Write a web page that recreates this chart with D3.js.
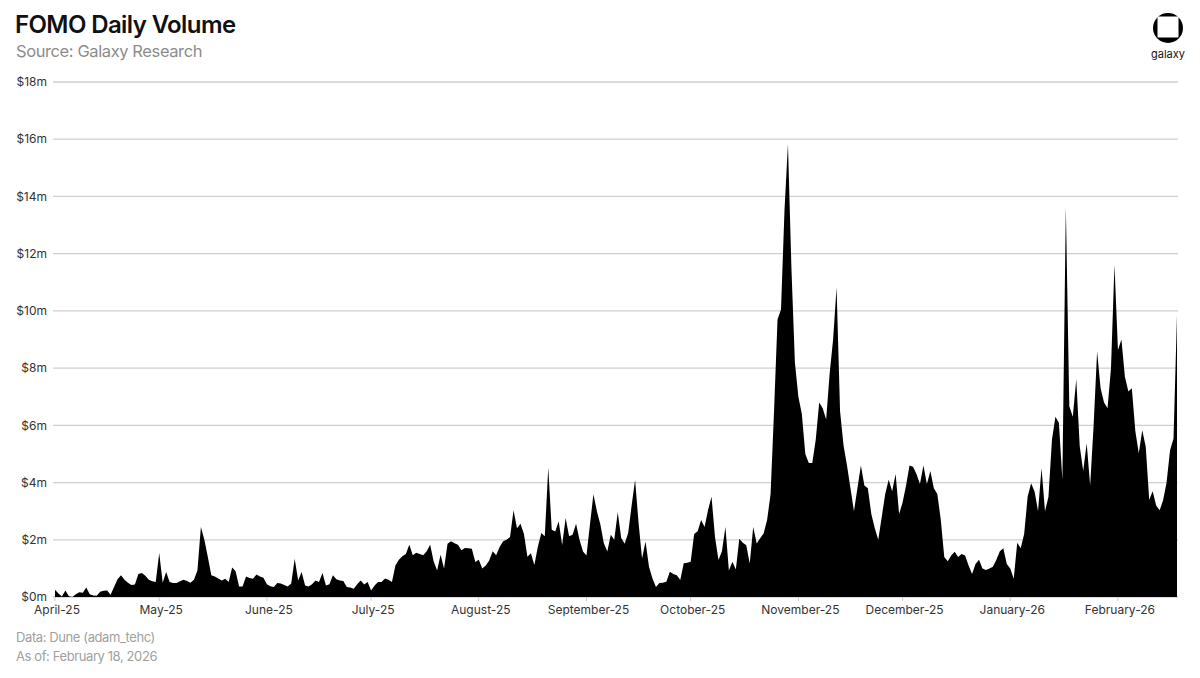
<!DOCTYPE html>
<html><head><meta charset="utf-8">
<script src="https://cdn.jsdelivr.net/npm/d3@7"></script>
<style>
body{margin:0;background:#fff;}
svg{display:block;font-family:Inter,"Open Sans",sans-serif;}
</style></head><body>
<svg id="c" width="1200" height="678"></svg>
<script>
const startDate = "2025-04-01";
const endDate = "2026-02-18";
const aprVals = [0.25,0.12,0.02,0.23,0.03,0.0,0.1,0.17,0.15,0.33,0.1,0.05,0.04,0.18,0.22,0.23,0.08,0.35,0.62,0.76,0.6,0.5,0.42,0.44,0.8,0.84,0.74,0.6,0.55,0.52];
const mayVals = [1.54,0.5,0.87,0.52,0.49,0.49,0.55,0.6,0.56,0.5,0.6,0.93,2.45,2.0,1.4,0.76,0.72,0.65,0.58,0.64,0.52,1.03,0.9,0.37,0.37,0.72,0.66,0.64,0.79,0.72,0.67];
const junVals = [0.45,0.38,0.35,0.49,0.47,0.42,0.37,0.47,1.34,0.58,0.87,0.4,0.37,0.45,0.58,0.52,0.84,0.4,0.45,0.76,0.62,0.58,0.56,0.35,0.33,0.29,0.45,0.58,0.44,0.52];
const julVals = [0.23,0.4,0.52,0.52,0.65,0.6,0.52,1.1,1.3,1.42,1.5,1.83,1.46,1.55,1.5,1.46,1.6,1.83,1.25,0.93,1.48,1.0,1.86,1.95,1.88,1.83,1.63,1.71,1.7,1.69,1.22];
const augVals = [1.3,1.0,1.1,1.28,1.6,1.46,1.75,1.95,2.0,2.1,3.03,2.4,2.56,2.2,1.41,1.53,1.12,1.76,2.24,2.12,4.53,2.35,2.29,2.65,1.82,2.76,2.12,2.18,2.56,2.0,1.59];
const sepVals = [1.45,2.53,3.59,3.0,2.53,1.88,1.59,2.18,2.0,2.96,2.06,1.86,2.24,3.2,4.09,2.59,1.35,1.94,1.06,0.65,0.35,0.49,0.5,0.53,0.88,0.8,0.76,0.59,1.18,1.2];
const octVals = [1.23,2.2,2.3,2.69,2.45,3.04,3.5,2.1,1.29,1.6,2.45,0.93,1.23,0.96,2.04,1.9,1.81,1.17,2.45,1.87,2.05,2.22,2.69,3.6,6.5,9.7,10.05,13.5,15.83,11.5,8.2];
const novVals = [7.0,6.4,5.0,4.68,4.68,5.5,6.8,6.6,6.2,7.8,9.0,10.82,6.5,5.3,4.6,3.8,3.0,3.8,4.6,3.9,3.8,2.9,2.4,2.0,2.8,3.6,4.1,3.7,4.3,2.9];
const decVals = [3.3,3.9,4.6,4.55,4.3,3.95,4.6,3.95,4.4,3.8,3.6,2.7,1.4,1.25,1.45,1.58,1.4,1.5,1.45,1.1,0.8,1.15,1.3,1.0,0.94,1.0,1.06,1.3,1.6,1.7,1.15];
const janVals = [1.0,0.64,1.9,1.7,2.2,3.5,3.98,3.69,3.0,4.51,3.0,3.5,5.5,6.3,6.09,4.1,13.64,6.67,6.3,7.61,5.27,4.4,5.37,3.9,6.0,8.58,7.3,6.8,6.6,8.0,11.61];
const febVals = [8.63,9.0,7.7,7.18,7.3,5.8,5.02,5.83,5.25,3.4,3.7,3.2,3.03,3.38,4.0,5.13,5.54,9.86];
const yTicks = [0,2,4,6,8,10,12,14,16,18];
const titleText = "FOMO Daily Volume";
const subtitleText = "Source: Galaxy Research";
const footer1 = "Data: Dune (adam_tehc)";
const footer2 = "As of: February 18, 2026";

const values = [].concat(aprVals,mayVals,junVals,julVals,augVals,sepVals,octVals,novVals,decVals,janVals,febVals);
const parse = d3.utcParse("%Y-%m-%d");
const t0 = parse(startDate);
const data = values.map((v,i)=>({date:d3.utcDay.offset(t0,i), v}));

const svg = d3.select("#c");
const x = d3.scaleUtc().domain([t0, parse(endDate)]).range([55,1177]);
const y = d3.scaleLinear().domain([0,18]).range([597,82]);

// gridlines
svg.append("g").selectAll("line").data(yTicks).join("line")
  .attr("x1",53).attr("x2",1178)
  .attr("y1",d=>y(d)).attr("y2",d=>y(d))
  .attr("stroke","#cfcfcf").attr("stroke-width",1.3);

// y labels
svg.append("g").selectAll("text").data(yTicks).join("text")
  .attr("x",47).attr("y",d=>y(d)).attr("dy","0.35em")
  .attr("text-anchor","end").attr("font-size",12).attr("fill","#333")
  .text(d=>"$"+d+"m");

// area
const area = d3.area().x(d=>x(d.date)).y0(y(0)).y1(d=>y(d.v)).curve(d3.curveLinear);
svg.append("path").datum(data).attr("d",area).attr("fill","#000");

// x axis
const months = d3.utcMonth.range(t0, parse(endDate));
const fmt = d3.utcFormat("%B-%y");
const xg = svg.append("g");
xg.selectAll("line").data(months).join("line")
  .attr("x1",d=>x(d)).attr("x2",d=>x(d)).attr("y1",597).attr("y2",601)
  .attr("stroke","#ccc");
xg.selectAll("text").data(months).join("text")
  .attr("x",d=>x(d)+2).attr("y",614).attr("text-anchor","middle")
  .attr("font-size",12).attr("fill","#333").text(d=>fmt(d));

// title
svg.append("text").attr("x",15).attr("y",33).attr("font-size",24).attr("font-weight",600)
  .attr("letter-spacing","-0.6").attr("fill","#111").text(titleText);
svg.append("text").attr("x",16).attr("y",57).attr("font-size",16.5)
  .attr("letter-spacing","-0.4").attr("fill","#8c8c8c").text(subtitleText);

// footer
svg.append("text").attr("x",16).attr("y",642).attr("font-size",13).attr("letter-spacing","-0.4")
  .attr("fill","#a0a0a0").text(footer1);
svg.append("text").attr("x",16).attr("y",661).attr("font-size",13).attr("letter-spacing","-0.4")
  .attr("fill","#a0a0a0").text(footer2);

// logo
const lg = svg.append("g");
lg.append("circle").attr("cx",1168).attr("cy",28).attr("r",15).attr("fill","#000");
lg.append("rect").attr("x",1157.5).attr("y",16.5).attr("width",21).attr("height",21).attr("rx",1).attr("fill","#fff");
lg.append("text").attr("x",1168).attr("y",58).attr("text-anchor","middle").attr("font-size",11)
  .attr("fill","#111").text("galaxy");
</script>
</body></html>
